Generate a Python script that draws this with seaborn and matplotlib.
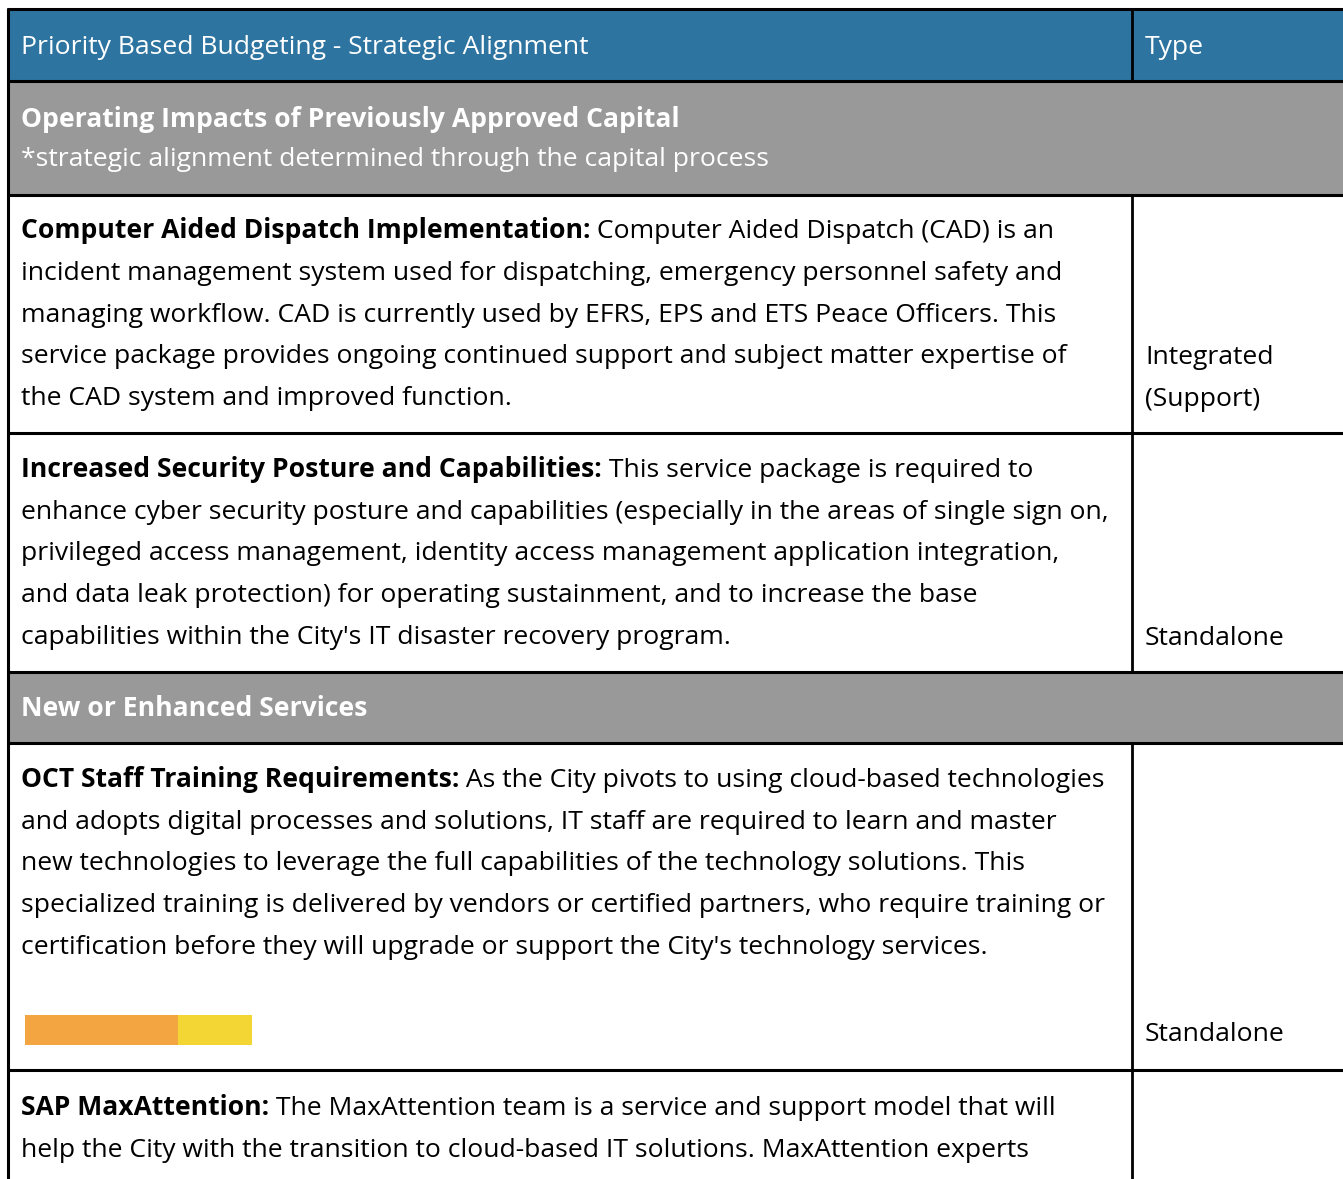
import matplotlib
matplotlib.use("Agg")
import matplotlib.pyplot as plt
import seaborn as sns

# Table content
header_left = "Priority Based Budgeting - Strategic Alignment"
header_right = "Type"

section_1_title = "Operating Impacts of Previously Approved Capital"
section_1_note = "*strategic alignment determined through the capital process"
section_2_title = "New or Enhanced Services"

row_titles = [
    "Computer Aided Dispatch Implementation:",
    "Increased Security Posture and Capabilities:",
    "OCT Staff Training Requirements:",
    "SAP MaxAttention:",
]
row_lines = [
    [" Computer Aided Dispatch (CAD) is an",
     "incident management system used for dispatching, emergency personnel safety and",
     "managing workflow. CAD is currently used by EFRS, EPS and ETS Peace Officers. This",
     "service package provides ongoing continued support and subject matter expertise of",
     "the CAD system and improved function."],
    [" This service package is required to",
     "enhance cyber security posture and capabilities (especially in the areas of single sign on,",
     "privileged access management, identity access management application integration,",
     "and data leak protection) for operating sustainment, and to increase the base",
     "capabilities within the City's IT disaster recovery program."],
    [" As the City pivots to using cloud-based technologies",
     "and adopts digital processes and solutions, IT staff are required to learn and master",
     "new technologies to leverage the full capabilities of the technology solutions. This",
     "specialized training is delivered by vendors or certified partners, who require training or",
     "certification before they will upgrade or support the City's technology services."],
    [" The MaxAttention team is a service and support model that will",
     "help the City with the transition to cloud-based IT solutions. MaxAttention experts"],
]
row_types = [["Integrated", "(Support)"], ["Standalone"], ["Standalone"], []]

# strategic alignment bar shown under the training row
bar_segments = [153, 74]

# layout (pixels)
W, H = 1343, 1179
BLUE = "#2E74A0"
GRAY = "#999999"
FS = 19.05
hlines = [9, 81, 195, 433, 672, 743, 1070]
col_x = 1132
row_top = [195, 433, 743, 1070]
row_bottom = [433, 672, 1070, 1179]
row_first_base = [238, 477, 787, 1115]
line_gap = 41.75
type_base = [[364, 406], [645], [1041], []]

sns.set_theme(style="white")
plt.rcParams["font.family"] = ["Open Sans", "DejaVu Sans"]

fig = plt.figure(figsize=(W / 100, H / 100), dpi=100)
ax = fig.add_axes([0, 0, 1, 1])
ax.set_xlim(0, W)
ax.set_ylim(H, 0)
ax.axis("off")

# backgrounds
ax.add_patch(plt.Rectangle((8, 9), W, 72, color=BLUE, zorder=0))
ax.add_patch(plt.Rectangle((8, 81), W, 114, color=GRAY, zorder=0))
ax.add_patch(plt.Rectangle((8, 672), W, 71, color=GRAY, zorder=0))

# grid lines
for y in hlines:
    ax.plot([8, W], [y, y], color="black", lw=2.2, zorder=2)
ax.plot([8, 8], [9, H], color="black", lw=2.2, zorder=2)
ax.plot([col_x, col_x], [9, 81], color="black", lw=2, zorder=2)
for t, b in zip(row_top, row_bottom):
    ax.plot([col_x, col_x], [t, b], color="black", lw=2, zorder=2)

# header
ax.text(21, 54, header_left, color="white", fontsize=FS, va="baseline")
ax.text(1145, 54, header_right, color="white", fontsize=FS, va="baseline")

# section headers
ax.text(21, 127, section_1_title, color="white", fontsize=FS, fontweight="bold", va="baseline")
ax.text(21, 166, section_1_note, color="white", fontsize=FS, va="baseline")
ax.text(21, 716, section_2_title, color="white", fontsize=FS, fontweight="bold", va="baseline")

fig.canvas.draw()
renderer = fig.canvas.get_renderer()
inv = ax.transData.inverted()

for title, lines, types, base, tb in zip(row_titles, row_lines, row_types, row_first_base, type_base):
    t = ax.text(21, base, title, color="black", fontsize=FS, fontweight="bold", va="baseline")
    bb = t.get_window_extent(renderer=renderer)
    x_end = inv.transform((bb.x1, bb.y0))[0]
    ax.text(x_end, base, lines[0], color="black", fontsize=FS, va="baseline")
    for i, ln in enumerate(lines[1:], start=1):
        ax.text(21, base + i * line_gap, ln, color="black", fontsize=FS, va="baseline")
    for txt, yb in zip(types, tb):
        ax.text(1145, yb, txt, color="black", fontsize=FS, va="baseline")

# alignment bar
bax = fig.add_axes([25 / W, 1 - 1045 / H, 227 / W, 30 / H])
left = 0
for val, c in zip(bar_segments, ["#F2A541", "#F3D634"]):
    bax.barh([0], [val], left=left, color=c, height=1.0, linewidth=0)
    left += val
bax.set_xlim(0, sum(bar_segments))
bax.set_ylim(-0.5, 0.5)
bax.axis("off")

fig.savefig("out.png", dpi=100)
